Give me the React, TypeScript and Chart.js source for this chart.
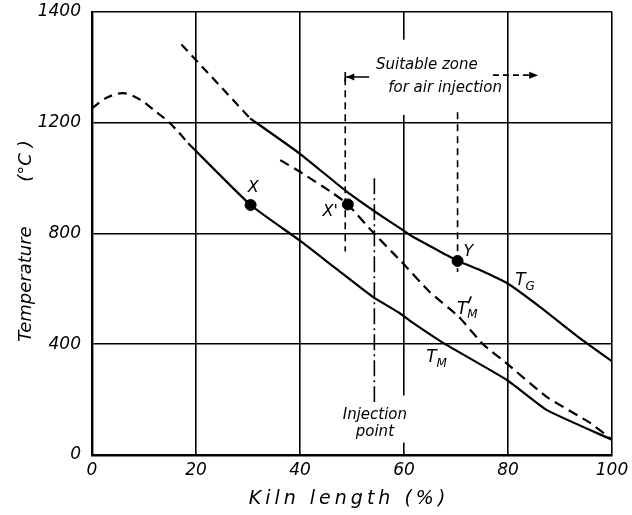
import React, { useEffect, useRef } from 'react';
import { Chart, registerables } from 'chart.js';
Chart.register(...registerables);

// ---------- data ----------
const xTickValues = [0, 20, 40, 60, 80, 100];
const yTickValues = [0, 400, 800, 1200, 1600];
const yTickLabels = ['0', '400', '800', '1200', '1400'];

// Gas temperature T_G (dashed start, then solid)
const tgDashX = [17.2, 30.4];
const tgDashY = [1483, 1216];
const tgX = [30.4, 40, 49, 54.8, 59.8, 61.7, 68.2, 70.3, 71.5, 74.6, 79.8, 86.2, 93.8, 100];
const tgY = [1216, 1088, 951, 874, 812, 788, 722, 701, 692, 668, 621, 534, 422, 338];

// Material temperature T_M (dashed start, then solid)
const tmDashX = [0, 3, 6, 9.2, 12.4, 14.4, 16.3, 18.5];
const tmDashY = [1253, 1292, 1307, 1284, 1238, 1209, 1173, 1126];
const tmX = [18.5, 30.5, 40, 47, 54, 59.2, 61.8, 67.6, 79.8, 87.5, 100];
const tmY = [1126, 903, 774, 672, 571, 512, 476, 404, 271, 162, 55];

// Material temperature with air injection T'_M (dashed)
const tmPrimeX = [36.2, 40, 46.3, 49.2, 54, 59.2, 65, 70.5, 75.2, 79.8, 87.5, 95.8, 100];
const tmPrimeY = [1065, 1023, 946, 905, 805, 704, 588, 500, 400, 330, 209, 116, 55];

// Marked points
const pointNames = ['X', "X'", 'Y'];
const pointX = [30.5, 49.2, 70.3];
const pointY = [903, 905, 701];

// Vertical guide lines
const zoneStartX = [48.7, 48.7];
const zoneStartY = [1361, 735];
const injectionX = [54.3, 54.3];
const injectionY = [1000, 191];
const yDropX = [70.3, 70.3];
const yDropY = [1238, 661];

const toXY = (xs: number[], ys: number[]) => xs.map((x, i) => ({ x, y: ys[i] }));

const FONT = "'DejaVu Sans', sans-serif";

const annotationPlugin = {
  id: 'annotations',
  beforeDatasetsDraw(chart: any) {
    const ctx = chart.ctx;
    const xs = chart.scales.x;
    const ys = chart.scales.y;
    const px = (v: number) => xs.getPixelForValue(v);
    const py = (v: number) => ys.getPixelForValue(v);
    ctx.save();
    ctx.fillStyle = '#ffffff';
    // gaps in the 60% gridline behind the texts
    ctx.fillRect(px(60) - 3, py(1500), 6, py(1228) - py(1500));
    ctx.fillRect(px(60) - 3, py(215), 6, py(45) - py(215));
    ctx.restore();
  },
  afterDatasetsDraw(chart: any) {
    const ctx = chart.ctx;
    const xs = chart.scales.x;
    const ys = chart.scales.y;
    const px = (v: number) => xs.getPixelForValue(v);
    const py = (v: number) => ys.getPixelForValue(v);
    ctx.save();
    ctx.fillStyle = '#000';
    ctx.strokeStyle = '#000';
    ctx.textAlign = 'center';
    ctx.textBaseline = 'middle';

    const text = (s: string, x: number, y: number, size: number, align = 'center') => {
      ctx.font = `italic ${size}px ${FONT}`;
      ctx.textAlign = align;
      ctx.fillText(s, x, y);
    };

    // Suitable zone text
    text('Suitable zone', px(64.4), py(1409), 15);
    text('for air injection', px(67.9), py(1326), 15);

    // left bracket arrow
    ctx.lineWidth = 1.6;
    ctx.setLineDash([]);
    const ax0 = px(48.7), ay = py(1365);
    ctx.beginPath();
    ctx.moveTo(ax0, ay - 5);
    ctx.lineTo(ax0, ay + 5);
    ctx.moveTo(ax0, ay);
    ctx.lineTo(px(53.3), ay);
    ctx.stroke();
    ctx.beginPath();
    ctx.moveTo(ax0 + 1, ay);
    ctx.lineTo(ax0 + 9, ay - 3.5);
    ctx.lineTo(ax0 + 9, ay + 3.5);
    ctx.closePath();
    ctx.fill();

    // right dashed arrow
    const bx0 = px(77.1), bx1 = px(85.8), by = py(1372);
    ctx.setLineDash([6, 4]);
    ctx.beginPath();
    ctx.moveTo(bx0, by);
    ctx.lineTo(bx1 - 6, by);
    ctx.stroke();
    ctx.setLineDash([]);
    ctx.beginPath();
    ctx.moveTo(bx1, by);
    ctx.lineTo(bx1 - 9, by - 3.5);
    ctx.lineTo(bx1 - 9, by + 3.5);
    ctx.closePath();
    ctx.fill();

    // Injection point
    text('Injection', px(54.4), py(144), 15);
    text('point', px(54.4), py(84), 15);

    // point labels
    text(pointNames[0], px(31.0), py(966), 16);
    text(pointNames[1], px(45.8), py(878), 16);
    text(pointNames[2], px(72.4), py(732), 16);

    // curve labels
    const tLabel = (x: number, y: number, sub: string, prime: boolean) => {
      const X = px(x), Y = py(y);
      text('T', X, Y, 17);
      text(sub, X + 5, Y + 6, 12, 'left');
      if (prime) {
        ctx.save();
        ctx.lineWidth = 1.6;
        ctx.beginPath();
        ctx.moveTo(X + 9, Y - 13);
        ctx.lineTo(X + 6, Y - 6);
        ctx.stroke();
        ctx.restore();
      }
    };
    tLabel(82.4, 630, 'G', false);
    tLabel(71.2, 526, 'M', true);
    tLabel(65.3, 352, 'M', false);

    // axis titles
    ctx.font = `italic 18px ${FONT}`;
    ctx.save();
    ctx.translate(26, 0);
    ctx.rotate(-Math.PI / 2);
    ctx.textAlign = 'center';
    ctx.fillText('Temperature', -284, 0);
    ctx.fillText('(\u00B0C )', -161, 0);
    ctx.restore();

    ctx.save();
    (ctx as any).letterSpacing = '4px';
    ctx.font = `italic 19px ${FONT}`;
    ctx.textAlign = 'center';
    ctx.fillText('Kiln length (%)', 349, 499);
    ctx.restore();

    ctx.restore();
  },
};

export default function App() {
  const ref = useRef<HTMLCanvasElement | null>(null);
  useEffect(() => {
    if (!ref.current) return;
    const solid = { borderColor: '#000', borderWidth: 2.2, pointRadius: 0, fill: false, tension: 0.15 };
    const dashed = { ...solid, borderDash: [9, 6] };
    const chart = new Chart(ref.current, {
      type: 'line',
      data: {
        datasets: [
          { ...dashed, data: toXY(tgDashX, tgDashY), tension: 0 },
          { ...solid, data: toXY(tgX, tgY) },
          { ...dashed, data: toXY(tmDashX, tmDashY), tension: 0.3 },
          { ...solid, data: toXY(tmX, tmY) },
          { ...dashed, data: toXY(tmPrimeX, tmPrimeY), borderDash: [10, 6] },
          { ...dashed, data: toXY(zoneStartX, zoneStartY), borderWidth: 1.6, borderDash: [7, 5], tension: 0 },
          { ...solid, data: toXY(injectionX, injectionY), borderWidth: 1.6, borderDash: [16, 4, 2, 4], tension: 0 },
          { ...dashed, data: toXY(yDropX, yDropY), borderWidth: 1.6, borderDash: [7, 5], tension: 0 },
          {
            data: toXY(pointX, pointY),
            showLine: false,
            pointRadius: 5.5,
            pointBackgroundColor: '#000',
            pointBorderColor: '#000',
            borderColor: '#000',
          },
        ],
      },
      options: {
        responsive: false,
        animation: false,
        devicePixelRatio: 1,
        layout: { padding: { left: 0, right: 20, top: 12, bottom: 0 } },
        plugins: { legend: { display: false }, tooltip: { enabled: false } },
        scales: {
          x: {
            type: 'linear',
            min: 0,
            max: 100,
            afterBuildTicks: (s: any) => {
              s.ticks = xTickValues.map((v) => ({ value: v }));
            },
            afterFit: (s: any) => {
              s.height = 60;
              s.paddingLeft = 0;
              s.paddingRight = 0;
            },
            grid: { color: '#000', lineWidth: 1.6, drawTicks: false },
            border: { color: '#000', width: 2.4 },
            ticks: {
              color: '#000',
              padding: 5,
              font: { family: FONT, style: 'italic', size: 17 },
              callback: (v: any) => String(v),
            },
          },
          y: {
            type: 'linear',
            min: 0,
            max: 1600,
            afterBuildTicks: (s: any) => {
              s.ticks = yTickValues.map((v) => ({ value: v }));
            },
            afterFit: (s: any) => {
              s.width = 92;
              s.paddingTop = 0;
              s.paddingBottom = 0;
            },
            grid: { color: '#000', lineWidth: 1.6, drawTicks: false },
            border: { color: '#000', width: 2.4 },
            ticks: {
              color: '#000',
              padding: 11,
              font: { family: FONT, style: 'italic', size: 17 },
              callback: (_v: any, i: number) => yTickLabels[i],
            },
          },
        },
      },
      plugins: [annotationPlugin],
    } as any);
    return () => chart.destroy();
  }, []);
  return (
    <div style={{ position: 'fixed', left: 0, top: 0, width: 632, height: 515, background: '#fff' }}>
      <canvas ref={ref} width={632} height={515} style={{ display: 'block' }} />
    </div>
  );
}
